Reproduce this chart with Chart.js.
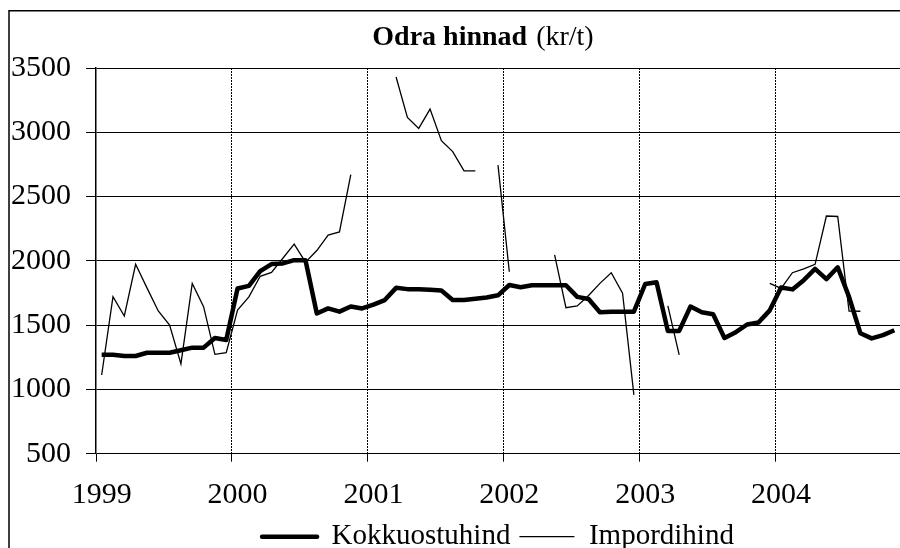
<!DOCTYPE html>
<html>
<head>
<meta charset="utf-8">
<script src="https://cdn.jsdelivr.net/npm/chart.js@4/dist/chart.umd.min.js"></script>
<style>
  html, body { margin: 0; padding: 0; background: #fff; overflow: hidden; }
  #wrap { width: 900px; height: 548px; position: relative; }
</style>
</head>
<body>
<div id="wrap"><canvas id="c" width="900" height="548"></canvas></div>
<script>
// Categories: months from January 1999 to November 2004 (Dec 2004 lies outside the frame)
const years = ['1999', '2000', '2001', '2002', '2003', '2004'];
const monthNames = ['01','02','03','04','05','06','07','08','09','10','11','12'];

// Kokkuostuhind (purchase price), kr/t
const kokkuostuhind = [
  1270, 1270, 1260, 1260, 1285, 1285, 1285, 1305, 1325, 1325, 1400, 1385,
  1785, 1805, 1920, 1975, 1980, 2005, 2005, 1590, 1630, 1605, 1645, 1630,
  1660, 1695, 1790, 1780, 1780, 1775, 1770, 1695, 1695, 1705, 1715, 1732,
  1812, 1795, 1810, 1810, 1810, 1810, 1720, 1703, 1600, 1605, 1605, 1605,
  1820, 1833, 1455, 1455, 1645, 1600, 1585, 1400, 1445, 1505, 1520, 1615,
  1792, 1778, 1850, 1937, 1858, 1950, 1720, 1437, 1397, 1422, 1460
];

// Impordihind (import price), kr/t; null = no data
const impordihind = [
  1112, 1721, 1571, 1973, 1790, 1610, 1501, 1198, 1825, 1644, 1273, 1286,
  1618, 1720, 1880, 1910, 2020, 2130, 1990, 2080, 2200, 2225, 2670, null,
  null, null, 3430, 3115, 3030, 3180, 2935, 2850, 2700, 2700, null, 2745,
  1915, null, null, null, 2046, 1636, 1649, 1730, 1825, 1908, 1748, 957,
  null, null, 1649, 1268, null, null, null, null, null, null, null, 1825,
  1786, 1908, 1937, 1973, 2349, 2345, 1610, 1608, null, null, null
];

const yTicks = [500, 1000, 1500, 2000, 2500, 3000, 3500];

const categories = [];
years.forEach(y => monthNames.forEach(m => categories.push(y + '-' + m)));
categories.length = kokkuostuhind.length;

const FONT = '"Liberation Serif", "Times New Roman", serif';

const framePlugin = {
  id: 'frame',
  beforeDraw(chart) {
    const ctx = chart.ctx;
    ctx.save();
    ctx.fillStyle = '#fff';
    ctx.fillRect(0, 0, chart.width, chart.height);
    ctx.strokeStyle = '#000';
    ctx.lineWidth = 1.5;
    ctx.strokeRect(9, 10.75, 2000, 2000);
    ctx.restore();
  },
  afterDraw(chart) {
    const ctx = chart.ctx;
    ctx.save();
    ctx.fillStyle = '#000';
    ctx.textBaseline = 'alphabetic';
    ctx.textAlign = 'left';
    ctx.font = 'bold 28px ' + FONT;
    const t1 = 'Odra hinnad';
    const w1 = ctx.measureText(t1).width;
    ctx.font = '28px ' + FONT;
    const t2 = '(kr/t)';
    const w2 = ctx.measureText(t2).width;
    const gap = 9;
    const cx = 483;
    const x0 = cx - (w1 + gap + w2) / 2;
    ctx.font = 'bold 28px ' + FONT;
    ctx.fillText(t1, x0, 45);
    ctx.font = '28px ' + FONT;
    ctx.fillText(t2, x0 + w1 + gap, 45);
    ctx.restore();
  }
};

new Chart(document.getElementById('c'), {
  type: 'line',
  data: {
    labels: categories,
    datasets: [
      {
        label: 'Kokkuostuhind',
        data: kokkuostuhind,
        borderColor: '#000',
        backgroundColor: '#000',
        borderWidth: 4.5,
        pointRadius: 0,
        tension: 0,
        borderJoinStyle: 'round',
        spanGaps: false
      },
      {
        label: 'Impordihind',
        data: impordihind,
        borderColor: '#000',
        backgroundColor: '#000',
        borderWidth: 1.3,
        pointRadius: 0,
        tension: 0,
        spanGaps: false
      }
    ]
  },
  options: {
    responsive: false,
    animation: false,
    devicePixelRatio: 1,
    layout: { padding: { top: 68, left: 0, right: 0, bottom: -13.2 } },
    plugins: {
      title: { display: false },
      tooltip: { enabled: false },
      legend: {
        display: true,
        position: 'bottom',
        fullSize: false,
        labels: {
          color: '#000',
          font: { family: FONT, size: 29 },
          boxWidth: 55,
          boxHeight: 0,
          padding: 9
        }
      }
    },
    scales: {
      x: {
        type: 'category',
        offset: true,
        afterFit(scale) { scale.height = 59.5; },
        grid: {
          offset: true,
          display: true,
          drawOnChartArea: true,
          drawTicks: true,
          tickLength: 8,
          lineWidth: 1,
          color: (ctx) => (ctx.index > 0 && ctx.index % 12 === 0) ? '#000' : 'rgba(0,0,0,0)',
          tickColor: (ctx) => (ctx.index % 12 === 0) ? '#000' : 'rgba(0,0,0,0)',
          tickWidth: 1,
          tickBorderDash: []
        },
        border: { display: false, dash: [2, 1] },
        ticks: {
          autoSkip: false,
          maxRotation: 0,
          minRotation: 0,
          padding: 0,
          color: '#000',
          font: { family: FONT, size: 30, lineHeight: 2.25 },
          callback: function (value, index) {
            return index % 12 === 0 ? years[index / 12] : '';
          }
        }
      },
      y: {
        min: yTicks[0],
        max: yTicks[yTicks.length - 1],
        afterFit(scale) { scale.width = 96; },
        afterBuildTicks(scale) { scale.ticks = yTicks.map(v => ({ value: v })); },
        grid: {
          color: '#000',
          lineWidth: 1,
          tickLength: 10,
          tickColor: '#000',
          drawTicks: true
        },
        border: { display: true, color: '#000', width: 1.5 },
        ticks: {
          padding: 15,
          color: '#000',
          font: { family: FONT, size: 30 },
          callback: (v) => String(v)
        }
      }
    }
  },
  plugins: [framePlugin]
});
</script>
</body>
</html>
